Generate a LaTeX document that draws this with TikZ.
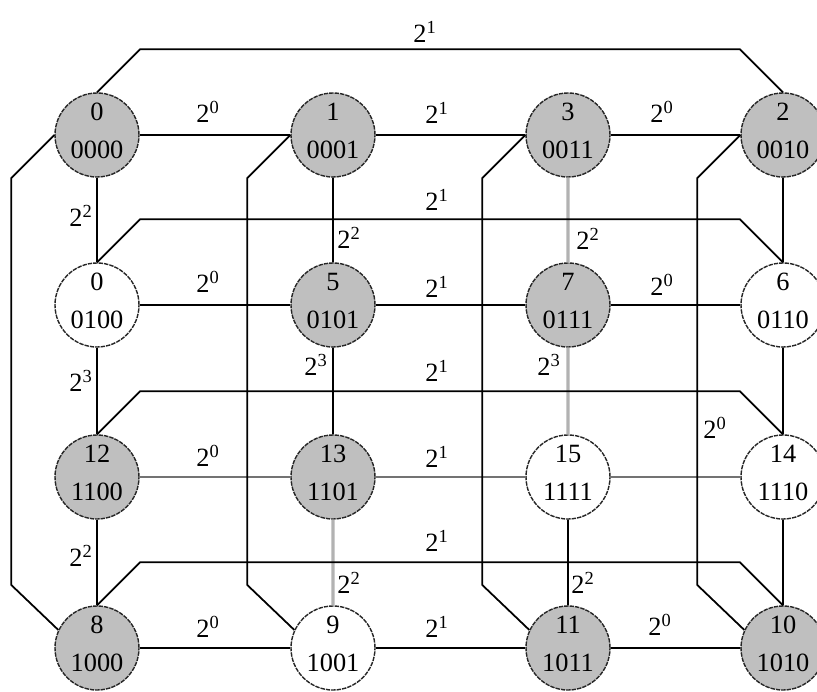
\documentclass[tikz,border=0pt]{standalone}
\usepackage{fontspec}
\setmainfont{Liberation Serif}

\begin{document}
\begin{tikzpicture}[scale=0.2]
\tikzstyle{every node}+=[inner sep=0pt, font=\fontsize{15}{21.6}\selectfont]
\tikzstyle{cube}=[circle, draw=black!85, dash pattern=on 2.5pt off 0.6pt, line width=0.8pt, minimum size=1.68cm, align=center, text depth=4.4pt]
\tikzstyle{gnode}=[cube, fill=black!25]
\tikzstyle{wnode}=[cube, fill=white]
\tikzstyle{link}=[black, line width=1pt]
\tikzstyle{pale}=[black!30, line width=1.8pt]
\tikzstyle{dim}=[black!55, line width=0.9pt]
\useasboundingbox (0,0) rectangle (81.7,-69.1);
% processors, row by row
\node [gnode] (n0) at (9.7,-13.5) {0\\0000};
\node [gnode] (n1) at (33.3,-13.5) {1\\0001};
\node [gnode] (n3) at (56.8,-13.5) {3\\0011};
\node [gnode] (n2) at (78.3,-13.5) {2\\0010};
\node [wnode] (n4) at (9.7,-30.5) {0\\0100};
\node [gnode] (n5) at (33.3,-30.5) {5\\0101};
\node [gnode] (n7) at (56.8,-30.5) {7\\0111};
\node [wnode] (n6) at (78.3,-30.5) {6\\0110};
\node [gnode] (n12) at (9.7,-47.7) {12\\1100};
\node [gnode] (n13) at (33.3,-47.7) {13\\1101};
\node [wnode] (n15) at (56.8,-47.7) {15\\1111};
\node [wnode] (n14) at (78.3,-47.7) {14\\1110};
\node [gnode] (n8) at (9.7,-64.8) {8\\1000};
\node [wnode] (n9) at (33.3,-64.8) {9\\1001};
\node [gnode] (n11) at (56.8,-64.8) {11\\1011};
\node [gnode] (n10) at (78.3,-64.8) {10\\1010};
% grey links
\draw [dim] (n12) -- (n13);
\draw [dim] (n13) -- (n15);
\draw [dim] (n15) -- (n14);
\draw [pale] (n3) -- (n7);
\draw [pale] (n7) -- (n15);
\draw [pale] (n13) -- (n9);
% rows
\draw [link] (n0) -- (n1);
\draw [link] (n1) -- (n3);
\draw [link] (n3) -- (n2);
\draw [link] (n4) -- (n5);
\draw [link] (n5) -- (n7);
\draw [link] (n7) -- (n6);
\draw [link] (n8) -- (n9);
\draw [link] (n9) -- (n11);
\draw [link] (n11) -- (n10);
% columns
\draw [link] (n0) -- (n4);
\draw [link] (n4) -- (n12);
\draw [link] (n12) -- (n8);
\draw [link] (n1) -- (n5);
\draw [link] (n5) -- (n13);
\draw [link] (n15) -- (n11);
\draw [link] (n2) -- (n6);
\draw [link] (n6) -- (n14);
\draw [link] (n14) -- (n10);
% wrap-around links over the top
\draw [link] (n0.north) -- ++(4.3,4.3) -- ++(60,0) -- (n2.north);
\draw [link] (n4.north) -- ++(4.3,4.3) -- ++(60,0) -- (n6.north);
\draw [link] (n12.north) -- ++(4.3,4.3) -- ++(60,0) -- (n14.north);
\draw [link] (n8.north) -- ++(4.3,4.3) -- ++(60,0) -- (n10.north);
% wrap-around links down the left
\draw [link] (n0.west) -- ++(-4.3,-4.3) -- ++(0,-40.7) -- (n8.155);
\draw [link] (n1.west) -- ++(-4.3,-4.3) -- ++(0,-40.7) -- (n9.155);
\draw [link] (n3.west) -- ++(-4.3,-4.3) -- ++(0,-40.7) -- (n11.155);
\draw [link] (n2.west) -- ++(-4.3,-4.3) -- ++(0,-40.7) -- (n10.155);
% weights
\node (w1) at (42.5,-3.2) {2\textsuperscript{1}};
\node (w2) at (20.8,-11.2) {2\textsuperscript{0}};
\node (w3) at (43.7,-11.3) {2\textsuperscript{1}};
\node (w4) at (66.2,-11.2) {2\textsuperscript{0}};
\node (w5) at (43.7,-20.0) {2\textsuperscript{1}};
\node (w6) at (8.1,-21.6) {2\textsuperscript{2}};
\node (w7) at (34.9,-23.8) {2\textsuperscript{2}};
\node (w8) at (58.8,-23.9) {2\textsuperscript{2}};
\node (w9) at (20.8,-28.2) {2\textsuperscript{0}};
\node (w10) at (43.7,-28.7) {2\textsuperscript{1}};
\node (w11) at (66.2,-28.5) {2\textsuperscript{0}};
\node (w12) at (8.1,-38.1) {2\textsuperscript{3}};
\node (w13) at (31.6,-36.5) {2\textsuperscript{3}};
\node (w14) at (54.9,-36.5) {2\textsuperscript{3}};
\node (w15) at (43.7,-37.1) {2\textsuperscript{1}};
\node (w16) at (71.5,-42.8) {2\textsuperscript{0}};
\node (w17) at (20.8,-45.6) {2\textsuperscript{0}};
\node (w18) at (43.7,-45.7) {2\textsuperscript{1}};
\node (w19) at (43.7,-54.1) {2\textsuperscript{1}};
\node (w20) at (8.1,-55.6) {2\textsuperscript{2}};
\node (w21) at (34.9,-58.3) {2\textsuperscript{2}};
\node (w22) at (58.3,-58.3) {2\textsuperscript{2}};
\node (w23) at (20.8,-62.7) {2\textsuperscript{0}};
\node (w24) at (43.7,-62.7) {2\textsuperscript{1}};
\node (w25) at (66.0,-62.5) {2\textsuperscript{0}};
\end{tikzpicture}
\end{document}
